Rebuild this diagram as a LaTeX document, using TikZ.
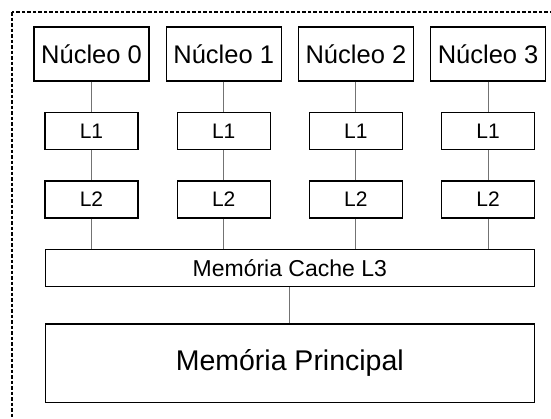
\documentclass[tikz,border=0pt]{standalone}
\usepackage{fontspec}
\setmainfont{Liberation Sans}
\begin{document}
\begin{tikzpicture}[x=1pt,y=-1pt,
  box/.style={draw=black,line width=1.3pt,inner sep=0pt,anchor=center},
  core/.style={box,minimum width=115pt,minimum height=54pt,font=\fontsize{25.5}{30}\selectfont},
  cache/.style={box,minimum width=93pt,minimum height=37pt,font=\fontsize{21}{25}\selectfont},
  wide/.style={box,minimum width=489pt},
  link/.style={draw=black!55,line width=1.1pt},
  frame/.style={draw=black,line width=1.9pt,dash pattern=on 3.5pt off 2pt}]
  \clip (0,0) rectangle (551,418);
  \useasboundingbox (0,0) rectangle (551,418);
  % chip outline (continues past the right and bottom edges)
  \draw[frame] (11.7,12) rectangle (600,470);
  % four cores, each with private L1 and L2
  \foreach \i/\x in {0/91.5,1/223.7,2/355.9,3/488.1}{
    \node[core] (c\i) at (\x,54) {Núcleo \i};
    \node[cache] (a\i) at (\x,130.8) {L1};
    \node[cache] (b\i) at (\x,199.4) {L2};
  }
  % shared L3 and main memory
  \node[wide,minimum height=37.4pt,font=\fontsize{23}{27}\selectfont] (l3) at (289.8,268) {Memória Cache L3};
  \node[wide,minimum height=78.7pt,font=\fontsize{28.5}{34}\selectfont] (mem) at (289.8,363.4) {Memória Principal};
  \foreach \i in {0,1,2,3}{
    \draw[link] (c\i) -- (a\i);
    \draw[link] (a\i) -- (b\i);
    \draw[link] (b\i.south) -- (b\i.south |- l3.north);
  }
  \draw[link] (l3) -- (mem);
\end{tikzpicture}
\end{document}
